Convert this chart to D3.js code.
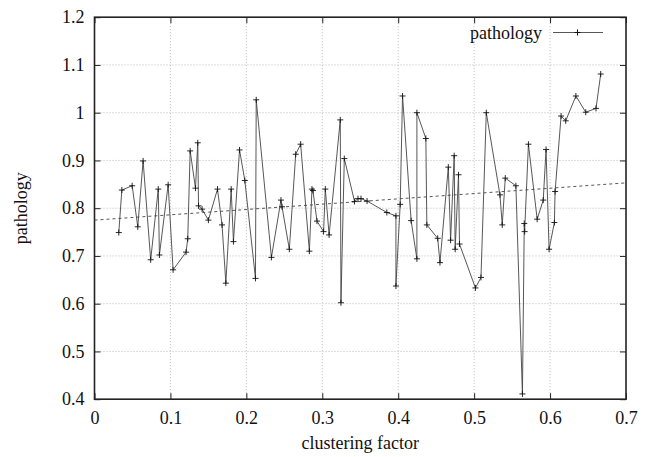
<!DOCTYPE html>
<html><head><meta charset="utf-8">
<script src="https://cdn.jsdelivr.net/npm/d3@7"></script>
<style>body{margin:0;background:#fff}svg{display:block}</style>
</head><body>
<svg id="c" width="654" height="457"></svg>
<script>
const clustering = [0.032,0.036,0.0496,0.057,0.064,0.074,0.084,0.0855,0.097,0.1035,
0.1206,0.1228,0.126,0.133,0.136,0.137,0.1417,0.150,0.162,0.168,
0.173,0.180,0.183,0.191,0.198,0.212,0.213,0.233,0.2456,0.247,
0.2566,0.265,0.2715,0.283,0.2864,0.2877,0.293,0.3017,0.304,0.309,
0.3237,0.3246,0.329,0.3425,0.347,0.351,0.359,0.385,0.397,0.397,
0.4026,0.4057,0.417,0.4246,0.4246,0.4364,0.4377,0.452,0.455,0.466,
0.469,0.4737,0.475,0.4794,0.4807,0.5017,0.509,0.516,0.534,0.537,
0.541,0.555,0.5636,0.566,0.5665,0.5715,0.583,0.591,0.5947,0.5987,
0.6057,0.6066,0.6145,0.6206,0.634,0.647,0.6605,0.6667];
const pathology = [0.749,0.838,0.847,0.761,0.899,0.692,0.840,0.702,0.849,0.671,
0.708,0.736,0.920,0.842,0.937,0.805,0.798,0.775,0.840,0.765,
0.643,0.840,0.730,0.922,0.858,0.653,1.027,0.697,0.817,0.803,
0.714,0.913,0.934,0.710,0.840,0.837,0.773,0.751,0.840,0.744,
0.985,0.602,0.904,0.814,0.820,0.820,0.815,0.791,0.784,0.637,
0.808,1.035,0.774,0.694,1.000,0.946,0.765,0.737,0.686,0.886,
0.733,0.910,0.714,0.870,0.725,0.633,0.655,1.000,0.828,0.765,
0.863,0.847,0.411,0.768,0.751,0.934,0.777,0.817,0.923,0.714,
0.770,0.835,0.993,0.983,1.035,1.001,1.009,1.081];
const trendX = [0, 0.7];
const trendY = [0.775, 0.853];
const xTicks = [0,0.1,0.2,0.3,0.4,0.5,0.6,0.7];
const xTickLabels = ["0","0.1","0.2","0.3","0.4","0.5","0.6","0.7"];
const yTicks = [0.4,0.5,0.6,0.7,0.8,0.9,1.0,1.1,1.2];
const yTickLabels = ["0.4","0.5","0.6","0.7","0.8","0.9","1","1.1","1.2"];
const seriesName = "pathology";
const xTitle = "clustering factor";
const yTitle = "pathology";

const L=94.5, R=626, T=17.2, B=399.2;
const svg = d3.select("#c");
const x = d3.scaleLinear().domain([0,0.7]).range([L,R]);
const y = d3.scaleLinear().domain([0.4,1.2]).range([B,T]);
const font = "'Liberation Serif','Times New Roman',serif";
const fs = "18px";

// grid
const g = svg.append("g");
g.selectAll("line.vx").data(xTicks.slice(1,-1)).enter().append("line")
  .attr("x1",d=>x(d)).attr("x2",d=>x(d)).attr("y1",T).attr("y2",B)
  .attr("stroke","#aaa").attr("stroke-width",0.8).attr("stroke-dasharray","1,2");
g.selectAll("line.hy").data(yTicks.slice(1,-1)).enter().append("line")
  .attr("x1",L).attr("x2",R).attr("y1",d=>y(d)).attr("y2",d=>y(d))
  .attr("stroke","#aaa").attr("stroke-width",0.8).attr("stroke-dasharray","1,2");

// axes with inward ticks
const tl = 6;
const axB = d3.axisBottom(x).tickValues(xTicks).tickFormat((d,i)=>xTickLabels[i]).tickSizeInner(-tl).tickSizeOuter(0).tickPadding(12);
const axT = d3.axisTop(x).tickValues(xTicks).tickFormat("").tickSizeInner(-tl).tickSizeOuter(0);
const axL = d3.axisLeft(y).tickValues(yTicks).tickFormat((d,i)=>yTickLabels[i]).tickSizeInner(-tl).tickSizeOuter(0).tickPadding(10);
const axRt = d3.axisRight(y).tickValues(yTicks).tickFormat("").tickSizeInner(-tl).tickSizeOuter(0);
function style(sel){
  sel.select(".domain").remove();
  sel.selectAll(".tick line").attr("stroke","#222");
  sel.selectAll(".tick text").attr("fill","#111").style("font-family",font).style("font-size",fs);
}
svg.append("g").attr("transform",`translate(0,${B})`).call(axB).call(style);
svg.append("g").attr("transform",`translate(0,${T})`).call(axT).call(style);
svg.append("g").attr("transform",`translate(${L},0)`).call(axL).call(style);
svg.append("g").attr("transform",`translate(${R},0)`).call(axRt).call(style);

// frame
svg.append("rect").attr("x",L).attr("y",T).attr("width",R-L).attr("height",B-T)
  .attr("fill","none").attr("stroke","#222").attr("stroke-width",1.6);

// trend line
svg.append("line").attr("x1",x(trendX[0])).attr("y1",y(trendY[0])).attr("x2",x(trendX[1])).attr("y2",y(trendY[1]))
  .attr("stroke","#444").attr("stroke-width",0.9).attr("stroke-dasharray","3,3");

// series
const pts = clustering.map((c,i)=>[c,pathology[i]]);
svg.append("path").datum(pts)
  .attr("d",d3.line().x(d=>x(d[0])).y(d=>y(d[1])))
  .attr("fill","none").attr("stroke","#444").attr("stroke-width",0.9);
const cs = 3;
const cross = svg.append("g").attr("stroke","#111").attr("stroke-width",0.9);
pts.forEach(d=>{
  const px=x(d[0]), py=y(d[1]);
  cross.append("line").attr("x1",px-cs).attr("x2",px+cs).attr("y1",py).attr("y2",py);
  cross.append("line").attr("x1",px).attr("x2",px).attr("y1",py-cs).attr("y2",py+cs);
});

// legend
svg.append("text").attr("x",542).attr("y",38.5).attr("text-anchor","end")
  .style("font-family",font).style("font-size",fs).attr("fill","#111").text(seriesName);
svg.append("line").attr("x1",553).attr("x2",603).attr("y1",32.5).attr("y2",32.5).attr("stroke","#444").attr("stroke-width",0.9);
svg.append("line").attr("x1",574.5).attr("x2",580.5).attr("y1",32.5).attr("y2",32.5).attr("stroke","#111");
svg.append("line").attr("x1",577.5).attr("x2",577.5).attr("y1",29.5).attr("y2",35.5).attr("stroke","#111");

// titles
svg.append("text").attr("x",(L+R)/2).attr("y",449).attr("text-anchor","middle")
  .style("font-family",font).style("font-size",fs).attr("fill","#111").text(xTitle);
svg.append("text").attr("transform",`translate(27,${(T+B)/2}) rotate(-90)`).attr("text-anchor","middle")
  .style("font-family",font).style("font-size",fs).attr("fill","#111").text(yTitle);
</script>
</body></html>
